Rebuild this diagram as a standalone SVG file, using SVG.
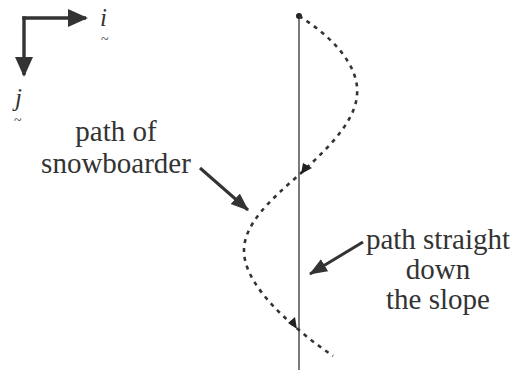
<svg xmlns="http://www.w3.org/2000/svg" width="518" height="370" viewBox="0 0 518 370">
<style>
.t{font-family:'Liberation Serif','DejaVu Serif',serif;font-size:29px;fill:#333;text-anchor:middle}
.v{font-family:'Liberation Serif','DejaVu Serif',serif;font-size:25px;font-style:italic;fill:#333}
.til{font-size:14px;font-style:normal}
.ax{stroke:#333;stroke-width:3.4;fill:none}
.ptr{stroke:#333;stroke-width:3;fill:none}
</style>
<defs>
<marker id="big" markerUnits="userSpaceOnUse" markerWidth="20" markerHeight="20" viewBox="0 0 20 20" refX="18" refY="10" orient="auto">
<path d="M0,1 L20,10 L0,19 Z" fill="#333"/>
</marker>
<marker id="mid" markerUnits="userSpaceOnUse" markerWidth="18" markerHeight="16" viewBox="0 0 18 16" refX="17" refY="8" orient="auto">
<path d="M0,1 L18,8 L0,15 Z" fill="#333"/>
</marker>
</defs>
<g id="axes">
<path class="ax" d="M22.3,18 H86" marker-end="url(#big)"/>
<path class="ax" d="M24,16.3 V75" marker-end="url(#big)"/>
<text class="v"><tspan x="100" y="26">i</tspan><tspan class="til" x="101" y="44">~</tspan></text>
<text class="v"><tspan x="15" y="106">j</tspan><tspan class="til" x="14" y="125">~</tspan></text>
</g>
<g id="straight-path">
<line x1="299" y1="16" x2="299" y2="370" stroke="#333" stroke-width="1.3"/>
<circle cx="299" cy="16" r="3" fill="#222"/>
</g>
<g id="snowboarder-path">
<path d="M299,16 C330,35 360,65 357,95 C355,125 320,155 299,175 C270,200 243,225 244,252 C245,280 275,310 299,330 C310,340 322,348 333,356" fill="none" stroke="#333" stroke-width="2.6" stroke-dasharray="4,5"/>
<path d="M301,174 L303,163 L312,168 Z" fill="#222"/>
<path d="M297,329 L288,323 L295,317 Z" fill="#222"/>
</g>
<g id="label-snowboarder">
<text class="t" x="116" y="141">path of</text>
<text class="t" x="116" y="173">snowboarder</text>
</g>
<g id="label-straight">
<text class="t" x="438" y="249">path straight</text>
<text class="t" x="438" y="279">down</text>
<text class="t" x="438" y="309">the slope</text>
</g>
<g id="connectors">
<line class="ptr" x1="200" y1="168" x2="248" y2="210" marker-end="url(#mid)"/>
<line class="ptr" x1="363" y1="242" x2="310" y2="274" marker-end="url(#mid)"/>
</g>
</svg>
